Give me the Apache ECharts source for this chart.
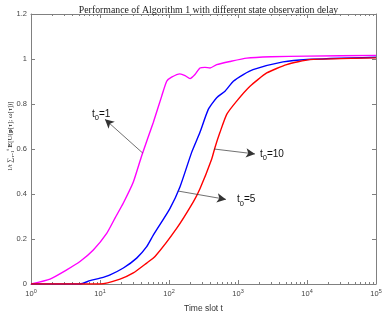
<!DOCTYPE html>
<html><head><meta charset="utf-8">
<script src="https://cdn.jsdelivr.net/npm/echarts@6/dist/echarts.min.js"></script>
<style>html,body{margin:0;padding:0;background:#fff}#c{width:386px;height:318px}</style>
</head><body><div id="c"></div>
<script>
// t0 = 1 (magenta)
const t_a = [1, 1.886, 3.29, 5.13, 8.0, 12.5, 16.5, 21.8, 30.4, 40.2, 59.2, 78.4, 92.6, 109, 144, 171, 202, 238, 281, 332, 393, 491, 765, 1337, 3000, 10000, 100000];
const v_a = [0, 0.022, 0.063, 0.100, 0.151, 0.225, 0.293, 0.36, 0.453, 0.570, 0.718, 0.835, 0.901, 0.919, 0.934, 0.926, 0.913, 0.931, 0.960, 0.963, 0.960, 0.975, 0.989, 1.004, 1.010, 1.013, 1.016];
// t0 = 5 (blue)
const t_b = [1, 5.13, 7.16, 10, 14.0, 21.8, 34.0, 47.5, 59.2, 103, 144, 213, 281, 371, 491, 648, 855, 1194, 1650, 4490, 10000, 100000];
const v_b = [0, 0, 0.015, 0.026, 0.041, 0.071, 0.115, 0.166, 0.217, 0.335, 0.431, 0.585, 0.674, 0.776, 0.828, 0.857, 0.901, 0.931, 0.953, 0.987, 0.998, 1.008];
// t0 = 10 (red)
const t_c = [1, 10, 19.5, 30.4, 47.5, 62.7, 129, 225, 281, 416, 464, 548, 686, 957, 1493, 2606, 5080, 10960, 100000];
const v_c = [0, 0, 0.022, 0.049, 0.093, 0.122, 0.247, 0.365, 0.423, 0.556, 0.607, 0.674, 0.754, 0.813, 0.879, 0.938, 0.975, 0.997, 1.005];

const xMajor = [1, 10, 100, 1000, 10000, 100000];
const xMinor = [];
for (let k = 0; k < 5; k++) for (let m = 2; m <= 9; m++) xMinor.push(m * Math.pow(10, k));

// annotations: arrow tail, arrow head, text anchor (data space)
const notes = [
  { name: '1',  tail: [41.6, 0.582], head: [11.8, 0.732], text: [7.65, 0.754] },
  { name: '10', tail: [449, 0.600],  head: [1763, 0.578], text: [2084, 0.578] },
  { name: '5',  tail: [136, 0.413],  head: [670, 0.376],  text: [967, 0.375] }
];

const AX = '#808080';
const FONT = 'Liberation Sans, Arial, sans-serif';
const SERIF = 'Liberation Serif, Times New Roman, serif';
const zip = (t, v) => t.map((x, i) => [x, v[i]]);

const chart = echarts.init(document.getElementById('c'));
const logAxis = (pos, major, labels) => ({
  type: 'log', logBase: 10, min: 1, max: 100000, position: pos,
  axisLine: { show: major, onZero: false, lineStyle: { color: AX, width: 1 } },
  axisTick: { show: true, inside: true, length: major ? 4 : 2, customValues: major ? xMajor : xMinor, lineStyle: { color: AX, width: 1 } },
  axisLabel: labels ? {
    show: true, customValues: xMajor, margin: 4, color: '#444', fontFamily: FONT, fontSize: 7.5,
    formatter: v => '10{sup|' + Math.round(Math.log10(v)) + '}',
    rich: { sup: { fontSize: 5.5, fontFamily: FONT, color: '#444', padding: [0, 0, 6, 0] } }
  } : { show: false },
  splitLine: { show: false },
  minorTick: { show: false }
});
const valAxis = (pos, labels) => ({
  type: 'value', min: 0, max: 1.2, interval: 0.2, position: pos,
  axisLine: { show: true, onZero: false, lineStyle: { color: AX, width: 1 } },
  axisTick: { show: true, inside: true, length: 4, lineStyle: { color: AX, width: 1 } },
  axisLabel: labels ? { show: true, margin: 4, color: '#444', fontFamily: FONT, fontSize: 7.5 } : { show: false },
  splitLine: { show: false }
});

const xb = logAxis('bottom', true, true);
xb.name = 'Time slot t';
xb.nameLocation = 'middle';
xb.nameGap = 20;
xb.nameTextStyle = { color: '#333', fontFamily: FONT, fontSize: 8.5 };

const lineSeries = (data, color) => ({
  type: 'line', data, xAxisIndex: 0, yAxisIndex: 0, showSymbol: false, symbol: 'none',
  smooth: 0.18, lineStyle: { color, width: 1.4 }, itemStyle: { color }, z: 3, silent: true
});

const arrows = {
  type: 'line', data: [], xAxisIndex: 0, yAxisIndex: 0, silent: true,
  markLine: {
    silent: true, symbol: ['none', 'arrow'], symbolSize: [7, 9],
    label: { show: false },
    lineStyle: { color: '#333', width: 0.7, type: 'solid' },
    data: notes.map(n => [{ coord: n.tail }, { coord: n.head }])
  }
};

chart.setOption({
  animation: false,
  backgroundColor: '#fff',
  title: {
    text: 'Performance of Algorithm 1 with different state observation delay',
    left: 203.5, textAlign: 'center', top: 0,
    textStyle: { fontFamily: SERIF, fontWeight: 'normal', fontSize: 9.8, color: '#222' }
  },
  grid: { left: 31, right: 10, top: 14, bottom: 32, containLabel: false },
  xAxis: [xb, logAxis('bottom', false, false), logAxis('top', true, false), logAxis('top', false, false)],
  yAxis: [valAxis('left', true), valAxis('right', false)],
  series: [
    lineSeries(zip(t_a, v_a), '#ff00ff'),
    lineSeries(zip(t_b, v_b), '#0000ff'),
    lineSeries(zip(t_c, v_c), '#ff0000'),
    arrows
  ]
});

const graphics = notes.map(n => {
  const p = chart.convertToPixel({ xAxisIndex: 0, yAxisIndex: 0 }, n.text);
  return {
    type: 'text', x: p[0], y: p[1], silent: true,
    style: {
      text: 't{s|0}=' + n.name, fill: '#111', font: '10px ' + FONT, verticalAlign: 'middle',
      rich: { s: { fontSize: 7.5, fontFamily: FONT, fill: '#111', padding: [8, 0, 0, 0] } }
    }
  };
});
graphics.push({
  type: 'text', x: 10, y: 136, rotation: Math.PI / 2, silent: true,
  style: {
    text: '{f|1/t} ∑{sb|τ=1}{sp|t} {b|E}[U({b|p}[τ]; ω[τ])]',
    fill: '#222', font: '7px ' + SERIF, align: 'center', verticalAlign: 'middle',
    rich: {
      f: { fontSize: 6, fontFamily: SERIF, fill: '#222' },
      sb: { fontSize: 4.8, fontFamily: SERIF, fill: '#222', padding: [5, 0, 0, 0] },
      sp: { fontSize: 4.8, fontFamily: SERIF, fill: '#222', padding: [0, 0, 5, 0] },
      b: { fontSize: 7, fontFamily: SERIF, fontWeight: 'bold', fill: '#222' }
    }
  }
});
chart.setOption({ graphic: graphics });
</script>
</body></html>
